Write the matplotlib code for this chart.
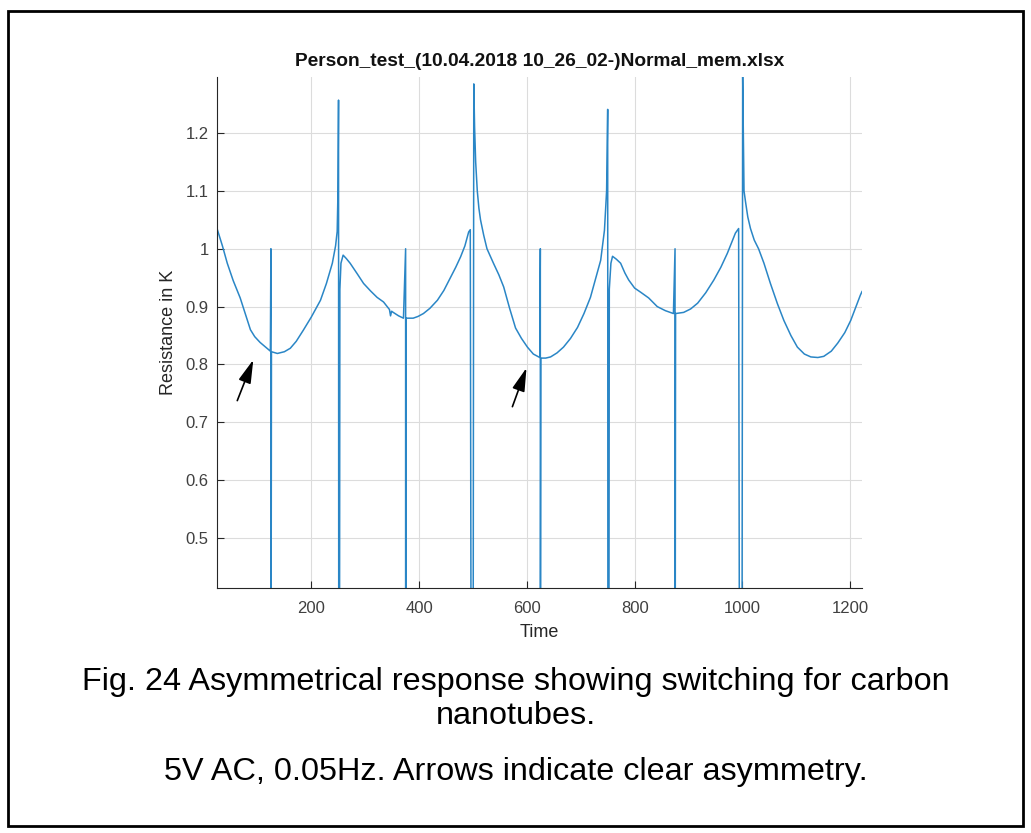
import matplotlib.pyplot as plt
from matplotlib.patches import Rectangle

plt.rcParams['font.family'] = ['Liberation Sans', 'DejaVu Sans']

# Resistance trace (time, resistance in K)
time = [25, 35, 44, 55, 68, 80, 87, 95, 105, 115, 124, 125, 125, 126, 137, 150,
        161, 172, 185, 200, 217, 228, 239, 245, 248, 249.5, 250.5, 251, 252, 253,
        255, 259, 265, 272, 285, 297, 310, 322, 334, 345, 347, 349, 352, 362, 371,
        375, 375, 376, 389, 398, 408, 420, 434, 446, 458, 468, 477, 485, 492, 495,
        497, 500, 501.5, 503, 505, 508, 511, 514, 520, 526, 538, 548, 557, 568, 579,
        590, 601, 612, 624, 625, 625, 626, 635, 644, 656, 668, 681, 694, 706, 718,
        728, 737, 744, 748, 750, 750.5, 752, 753, 756, 759, 766, 774, 782, 789,
        800, 811, 826, 842, 857, 872, 875, 875, 876, 891, 904, 917, 932, 947, 960,
        972, 987, 993, 995, 999, 1000.5, 1002, 1003, 1006, 1010, 1015, 1022, 1030,
        1040, 1052, 1065, 1077, 1090, 1102, 1115, 1127, 1140, 1151, 1165, 1177,
        1190, 1201, 1210, 1219, 1222]
resistance = [1.035, 1.005, 0.975, 0.945, 0.915, 0.880, 0.860, 0.848, 0.838, 0.830,
              0.823, 1.0, 0.0, 0.822, 0.819, 0.822, 0.828, 0.840, 0.859, 0.882,
              0.911, 0.940, 0.975, 1.005, 1.03, 1.10, 1.257, 0.0, 0.0, 0.93, 0.975,
              0.989, 0.983, 0.975, 0.957, 0.940, 0.927, 0.916, 0.908, 0.895, 0.884,
              0.892, 0.890, 0.884, 0.880, 1.0, 0.0, 0.880, 0.880, 0.883, 0.888,
              0.897, 0.911, 0.928, 0.950, 0.968, 0.986, 1.005, 1.029, 1.033, 0.0,
              0.0, 1.285, 1.21, 1.15, 1.10, 1.07, 1.05, 1.023, 1.000, 0.975, 0.955,
              0.934, 0.897, 0.863, 0.845, 0.830, 0.818, 0.812, 1.0, 0.0, 0.811,
              0.811, 0.813, 0.820, 0.830, 0.845, 0.864, 0.888, 0.916, 0.950, 0.98,
              1.032, 1.10, 1.241, 0.0, 0.0, 0.93, 0.975, 0.987, 0.982, 0.975, 0.958,
              0.946, 0.932, 0.925, 0.915, 0.900, 0.893, 0.888, 1.0, 0.0, 0.888,
              0.890, 0.896, 0.906, 0.924, 0.946, 0.968, 0.992, 1.027, 1.035, 0.0,
              0.0, 1.297, 1.18, 1.10, 1.08, 1.055, 1.035, 1.015, 1.000, 0.975,
              0.940, 0.905, 0.876, 0.850, 0.830, 0.818, 0.813, 0.812, 0.814, 0.823,
              0.837, 0.855, 0.876, 0.898, 0.920, 0.926]

x_ticks = [200, 400, 600, 800, 1000, 1200]
y_ticks = [0.5, 0.6, 0.7, 0.8, 0.9, 1.0, 1.1, 1.2]
y_labels = ['0.5', '0.6', '0.7', '0.8', '0.9', '1', '1.1', '1.2']

# arrows (tail, head) in data units
arrows = [((60.7, 0.733), (94.2, 0.8125)), ((571.4, 0.7225), (601.1, 0.7986))]

title = 'Person_test_(10.04.2018 10_26_02-)Normal_mem.xlsx'
caption1 = 'Fig. 24 Asymmetrical response showing switching for carbon'
caption2 = 'nanotubes.'
caption3 = '5V AC, 0.05Hz. Arrows indicate clear asymmetry.'

fig = plt.figure(figsize=(10.31, 8.33), dpi=100)
ax = fig.add_axes([0.2105, 0.2941, 0.6256, 0.6135])

ax.plot(time, resistance, color='#2a86c6', lw=1.1)
ax.set_xlim(25, 1222)
ax.set_ylim(0.4135, 1.297)

ax.set_xticks(x_ticks)
ax.set_yticks(y_ticks)
ax.set_yticklabels(y_labels)
ax.grid(True, color='#dcdcdc', lw=0.8)
ax.set_axisbelow(True)
for s in ['top', 'right']:
    ax.spines[s].set_visible(False)
for s in ['left', 'bottom']:
    ax.spines[s].set_color('#262626')
    ax.spines[s].set_linewidth(0.8)
ax.tick_params(direction='in', length=5, width=0.8, colors='#262626',
               labelsize=12, labelcolor='#404040')
ax.tick_params(axis='x', pad=9)
ax.tick_params(axis='y', pad=6)

ax.set_xlabel('Time', fontsize=13, color='#262626', labelpad=6)
ax.set_ylabel('Resistance in K', fontsize=13, color='#262626', labelpad=6)
ax.set_title(title, fontsize=13.8, fontweight='bold', color='#111111', pad=8)

for (tail, head) in arrows:
    ax.annotate('', xy=head, xytext=tail,
                arrowprops=dict(arrowstyle='-|>,head_length=0.55,head_width=0.15',
                                color='black', lw=1.2, mutation_scale=26))

fig.text(0.5, 1 - 682 / 833, caption1, ha='center', va='center', fontsize=23.3)
fig.text(0.5, 1 - 716 / 833, caption2, ha='center', va='center', fontsize=23.3)
fig.text(0.5, 1 - 772 / 833, caption3, ha='center', va='center', fontsize=23.3)

fig.patches.append(Rectangle((8 / 1031, 7 / 833), 1015 / 1031, 815 / 833,
                             transform=fig.transFigure, fill=False,
                             edgecolor='black', lw=2, zorder=10))

fig.savefig('out.png', dpi=100)
